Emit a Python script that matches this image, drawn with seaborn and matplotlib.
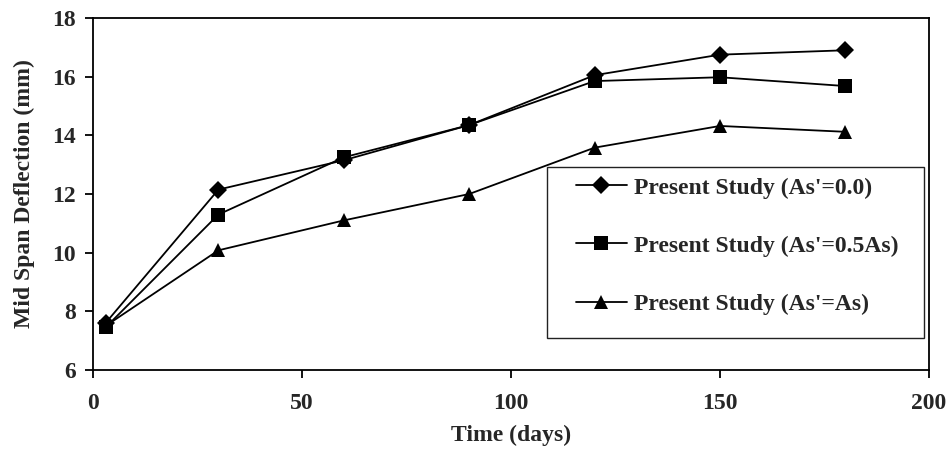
import seaborn as sns
import pandas as pd
import matplotlib.pyplot as plt
from matplotlib.patches import Rectangle

# data
days = [3, 30, 60, 90, 120, 150, 180]
defl_00 = [7.6, 12.15, 13.15, 14.35, 16.05, 16.75, 16.9]
defl_05 = [7.45, 11.3, 13.25, 14.35, 15.85, 15.98, 15.68]
defl_10 = [7.5, 10.08, 11.1, 12.0, 13.58, 14.32, 14.12]
labels = ["Present Study (As'=0.0)", "Present Study (As'=0.5As)", "Present Study (As'=As)"]
markers = ["D", "s", "^"]

sns.set_theme(style="white")
plt.rcParams['font.family'] = ['Liberation Serif', 'DejaVu Serif']
plt.rcParams['font.weight'] = 'bold'

fig = plt.figure(figsize=(9.51, 4.57), dpi=100)
ax = fig.add_axes([93 / 951, 1 - 370 / 457, 836 / 951, 352 / 457])

frames = []
for lab, vals in zip(labels, [defl_00, defl_05, defl_10]):
    frames.append(pd.DataFrame({'Time': days, 'Deflection': vals, 'Series': lab}))
df = pd.concat(frames)

sizes = {"D": 9, "s": 10, "^": 10.5}
for lab, m in zip(labels, markers):
    sub = df[df['Series'] == lab]
    sns.lineplot(data=sub, x='Time', y='Deflection', ax=ax, color='black',
                 marker=m, markersize=sizes[m], markeredgewidth=0,
                 linewidth=1.3, label=lab, legend=False)

ax.set_xlim(0, 200)
ax.set_ylim(6, 18)
ax.set_xticks([0, 50, 100, 150, 200])
ax.set_yticks([6, 8, 10, 12, 14, 16, 18])
ax.tick_params(axis='both', which='major', direction='out', length=5.5, width=1.3,
               color='black', labelsize=17, bottom=True, left=True)
ax.tick_params(axis='x', pad=11)
ax.tick_params(axis='y', pad=7)
for t in ax.get_xticklabels() + ax.get_yticklabels():
    t.set_fontweight('bold')
for s in ax.spines.values():
    s.set_color('black')
    s.set_linewidth(1.3)

ax.set_xlabel('Time (days)', fontsize=17, fontweight='bold', labelpad=7.5)
ax.set_ylabel('Mid Span Deflection (mm)', fontsize=17, fontweight='bold', labelpad=12)

# legend box
x0 = (547 - 93) / 836
y0 = 1 - (338 - 18) / 352
w = (924 - 547) / 836
h = (338 - 167) / 352
ax.add_patch(Rectangle((x0, y0), w, h, transform=ax.transAxes, facecolor='white',
                       edgecolor='#222222', linewidth=1.0, zorder=5))
handles, _ = ax.get_legend_handles_labels()
leg = ax.legend(handles, labels, loc='upper left',
                bbox_to_anchor=((576 - 93) / 836, 1 - (177 - 18) / 352),
                frameon=False, fontsize=17, handlelength=2.15, handletextpad=0.3,
                labelspacing=1.55, borderaxespad=0, borderpad=0)
leg.set_zorder(6)
for t in leg.get_texts():
    t.set_fontweight('bold')

fig.savefig('out.png', dpi=100)
